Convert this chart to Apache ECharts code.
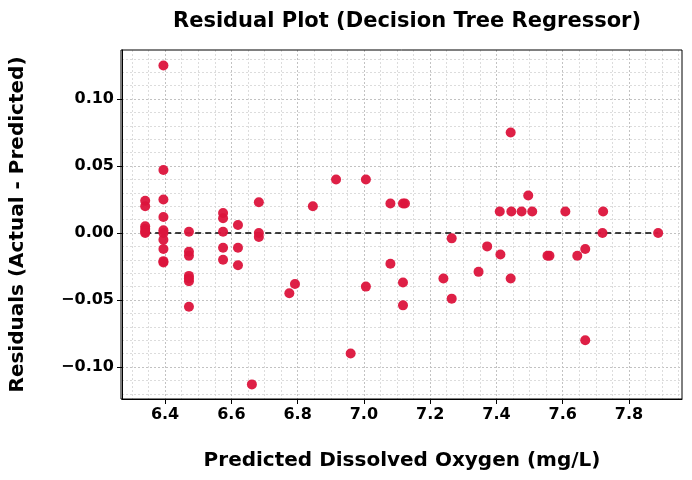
<!DOCTYPE html>
<html lang="en">
<head>
<meta charset="UTF-8">
<title>Residual Plot</title>
<script src="https://cdn.jsdelivr.net/npm/echarts@6/dist/echarts.min.js"></script>
<style>
  html,body{margin:0;padding:0;background:#fff;}
  #chart{width:692px;height:480px;}
</style>
</head>
<body>
<div id="chart"></div>
<script>
// predicted values and residuals
var predicted = [
  6.34,6.34,6.34,6.34,6.34,6.34,
  6.395,6.395,6.395,6.395,6.395,6.395,6.395,6.395,6.395,6.395,
  6.472,6.472,6.472,6.472,6.472,6.472,6.472,
  6.575,6.575,6.575,6.575,6.575,
  6.62,6.62,6.62,
  6.683,6.683,6.683,
  6.662,6.775,6.792,6.846,6.916,6.96,7.006,7.006,
  7.08,7.08,7.118,7.124,7.118,7.118,
  7.24,7.265,7.265,7.346,7.372,
  7.41,7.412,7.443,7.443,7.445,7.476,7.496,7.508,
  7.554,7.56,7.608,7.644,7.668,7.668,7.72,7.722,7.888
];
var residuals = [
  0.024,0.020,0.005,0.003,0.001,0.0,
  0.125,0.047,0.025,0.012,0.002,0.0,-0.005,-0.012,-0.021,-0.022,
  0.001,-0.014,-0.017,-0.032,-0.034,-0.036,-0.055,
  0.015,0.011,0.001,-0.011,-0.020,
  0.006,-0.011,-0.024,
  0.023,0.0,-0.003,
  -0.113,-0.045,-0.038,0.020,0.040,-0.090,0.040,-0.040,
  0.022,-0.023,0.022,0.022,-0.037,-0.054,
  -0.034,-0.004,-0.049,-0.029,-0.010,
  0.016,-0.016,0.075,-0.034,0.016,0.016,0.028,0.016,
  -0.017,-0.017,0.016,-0.017,-0.012,-0.080,0.0,0.016,0.0
];
var xTicks = [6.4, 6.6, 6.8, 7.0, 7.2, 7.4, 7.6, 7.8];
var yTicks = [-0.10, -0.05, 0.00, 0.05, 0.10];

var xMin = 6.27, xMax = 7.96, yMin = -0.1239, yMax = 0.1366;
var xMinor = [], yMinor = [];
for (var i = 0; i * 0.05 + 6.3 <= xMax; i++) xMinor.push(+(6.3 + i * 0.05).toFixed(2));
for (var j = 0; j * 0.01 - 0.12 <= yMax; j++) yMinor.push(+(-0.12 + j * 0.01).toFixed(2));

var points = predicted.map(function (x, k) { return [x, residuals[k]]; });
var zeroLine = [[Math.min.apply(null, predicted), 0], [Math.max.apply(null, predicted), 0]];

var font = 'DejaVu Sans';
var chart = echarts.init(document.getElementById('chart'));
chart.setOption({
  animation: false,
  title: {
    text: 'Residual Plot (Decision Tree Regressor)',
    left: 402, top: 6, textAlign: 'center',
    textStyle: {fontFamily: font, fontSize: 21, fontWeight: 'bold', color: '#000'}
  },
  grid: {left: 121, right: 10, top: 50, bottom: 81},
  xAxis: [{
    type: 'value', min: xMin, max: xMax,
    name: 'Predicted Dissolved Oxygen (mg/L)', nameLocation: 'middle', nameGap: 52,
    nameTextStyle: {fontFamily: font, fontSize: 20, fontWeight: 'bold', color: '#000'},
    axisLine: {show: true, onZero: false, lineStyle: {color: '#000', width: 1}},
    axisTick: {show: true, length: 5, customValues: xTicks, lineStyle: {color: '#000'}},
    axisLabel: {customValues: xTicks, fontFamily: font, fontSize: 16, fontWeight: 'bold', color: '#000',
      formatter: function (v) { return v.toFixed(1); }},
    splitLine: {show: true, lineStyle: {color: '#666', type: [2, 2], width: 0.8}}
  }, {
    type: 'value', min: xMin, max: xMax, position: 'bottom',
    axisLine: {show: false}, axisLabel: {show: false},
    axisTick: {show: false, customValues: xMinor},
    splitLine: {show: true, lineStyle: {color: '#d4d4d4', type: [2, 2], width: 0.8}}
  }],
  yAxis: [{
    type: 'value', min: yMin, max: yMax,
    name: 'Residuals (Actual - Predicted)', nameLocation: 'middle', nameGap: 94,
    nameTextStyle: {fontFamily: font, fontSize: 20, fontWeight: 'bold', color: '#000'},
    axisLine: {show: true, onZero: false, lineStyle: {color: '#000', width: 1}},
    axisTick: {show: true, length: 5, customValues: yTicks, lineStyle: {color: '#000'}},
    axisLabel: {customValues: yTicks, fontFamily: font, fontSize: 16, fontWeight: 'bold', color: '#000',
      formatter: function (v) { return v.toFixed(2).replace('-', '\u2212'); }},
    splitLine: {show: true, lineStyle: {color: '#666', type: [2, 2], width: 0.8}}
  }, {
    type: 'value', min: yMin, max: yMax, position: 'left',
    axisLine: {show: false}, axisLabel: {show: false},
    axisTick: {show: false, customValues: yMinor},
    splitLine: {show: true, lineStyle: {color: '#d4d4d4', type: [2, 2], width: 0.8}}
  }],
  series: [{
    type: 'line', data: zeroLine, symbol: 'none', z: 3,
    lineStyle: {color: '#000', width: 1.5, type: [6, 4]}
  }, {
    type: 'scatter', data: points, symbolSize: 10, z: 4,
    itemStyle: {color: '#dc143c', opacity: 0.95}
  }]
});
// frame on top and right
chart.setOption({graphic: [{type: 'rect', shape: {x: 121, y: 50, width: 561, height: 349},
  style: {fill: 'none', stroke: '#000', lineWidth: 1}, z: 10}]});
</script>
</body>
</html>
